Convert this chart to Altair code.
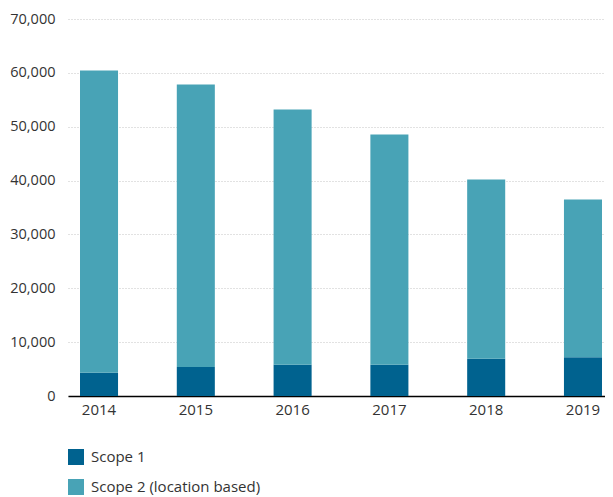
import altair as alt
import pandas as pd

years = ["2014", "2015", "2016", "2017", "2018", "2019"]
scope1 = [4300, 5400, 5800, 5800, 6900, 7200]
scope2 = [56130, 52430, 47400, 42770, 33290, 29280]
series = ["Scope 1", "Scope 2 (location based)"]
colors = ["#00628f", "#48a3b6"]
y_ticks = [0, 10000, 20000, 30000, 40000, 50000, 60000, 70000]

rows = []
for i, yr in enumerate(years):
    rows.append({"year": yr, "series": series[0], "value": scope1[i], "ord": 0})
    rows.append({"year": yr, "series": series[1], "value": scope2[i], "ord": 1})
df = pd.DataFrame(rows)

FONT = "Open Sans"

chart = alt.Chart(df).mark_bar().encode(
    x=alt.X("year:N", title=None, sort=years,
            scale=alt.Scale(paddingInner=0.607, paddingOuter=0.0775, align=0.8),
            axis=alt.Axis(labelAngle=0, ticks=False, domain=True, domainColor="#000000",
                          domainWidth=1.5, labelPadding=6, labelFontSize=15,
                          labelColor="#333333", labelFont=FONT, grid=False)),
    y=alt.Y("value:Q", title=None, stack="zero",
            scale=alt.Scale(domain=[0, 70000], nice=False),
            axis=alt.Axis(values=y_ticks, format=",.0f", grid=True, gridDash=[1, 2],
                          gridColor="#c4c4c4", gridWidth=1, domain=False, ticks=False,
                          labelPadding=13, labelFontSize=14.5, labelColor="#333333",
                          labelFont=FONT, minExtent=60, maxExtent=60)),
    color=alt.Color("series:N", sort=series,
                    scale=alt.Scale(domain=series, range=colors),
                    legend=alt.Legend(title=None, orient="none", legendX=0, legendY=430,
                                      direction="vertical", symbolType="square",
                                      symbolSize=256, symbolStrokeWidth=0,
                                      labelFontSize=15, labelFont=FONT,
                                      labelColor="#333333", labelOffset=7,
                                      labelLimit=400, rowPadding=14, padding=0)),
    order=alt.Order("ord:Q", sort="ascending"),
).properties(
    width=537, height=377,
    padding={"left": 0, "top": 3, "right": 0, "bottom": 0},
).configure_view(stroke=None)

chart.save("out.html", embed_options={"renderer": "svg", "actions": False})
